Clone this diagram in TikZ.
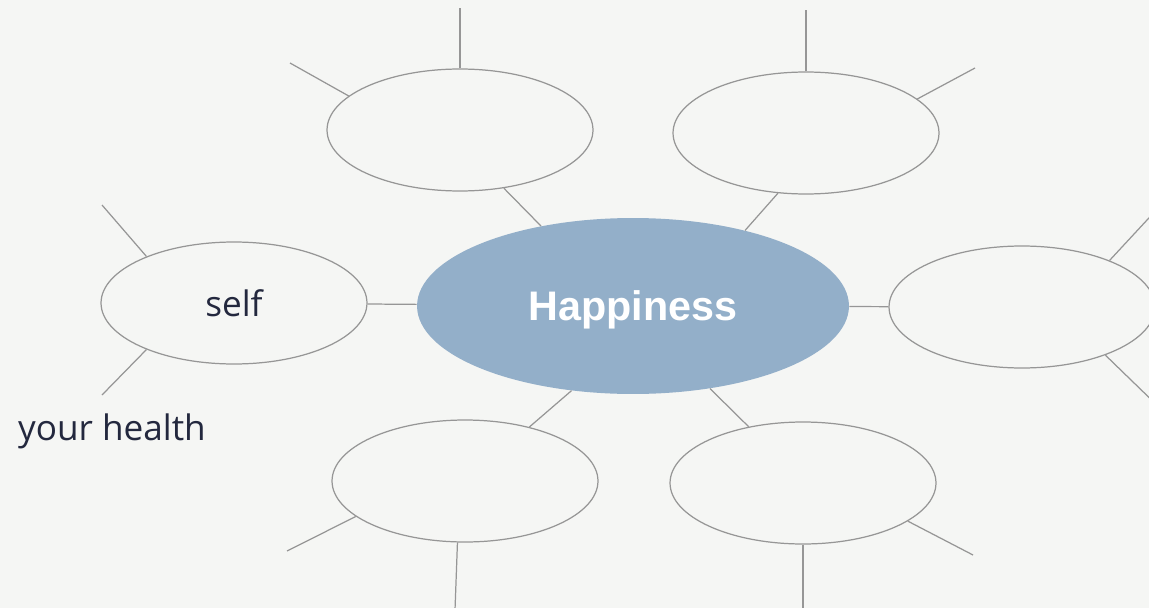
\documentclass[tikz,border=0pt]{standalone}
\usepackage{fontspec}
\setmainfont{Liberation Sans}
\newfontfamily\handfont{Open Sans}
\usetikzlibrary{shapes.geometric}
\definecolor{paper}{RGB}{245,246,244}
\definecolor{hubblue}{RGB}{147,175,201}
\definecolor{rulegray}{RGB}{150,150,150}
\definecolor{ink}{RGB}{35,40,62}

\begin{document}
\begin{tikzpicture}[x=0.02cm,y=-0.02cm]
  \tikzset{
    hub/.style={ellipse,fill=hubblue,inner sep=0pt,minimum width=8.64cm,
      minimum height=3.52cm,text=white,text depth=0pt,
      font=\fontsize{23.5}{26}\selectfont\bfseries},
    bubble/.style={ellipse,draw=rulegray,line width=0.7pt,inner sep=0pt,
      minimum width=5.32cm,minimum height=2.44cm},
    spoke/.style={draw=rulegray,line width=0.7pt},
    scrawl/.style={text=ink,font=\handfont\fontsize{20}{24}\selectfont}
  }
  \useasboundingbox (0,0) rectangle (1149,608);
  \fill[paper] (0,0) rectangle (1149,608);

  % centre and the six bubbles
  \node[hub] (happy) at (633,306) {Happiness};
  \node[bubble] (tl) at (460,130) {};
  \node[bubble] (tr) at (806,133) {};
  \node[bubble,scrawl] (self) at (234,303) {self};
  \node[bubble] (rt) at (1022,307) {};
  \node[bubble] (bl) at (465,481) {};
  \node[bubble] (br) at (803,483) {};
  \node[scrawl] (health) at (112,431) {your health};

  % free ends of the outer spokes
  \coordinate (tl-n) at (460,8);
  \coordinate (tl-w) at (290,63);
  \coordinate (tr-n) at (806,10);
  \coordinate (tr-e) at (975,68);
  \coordinate (self-nw) at (102,205);
  \coordinate (self-sw) at (102,395);
  \coordinate (rt-ne) at (1160,206);
  \coordinate (rt-se) at (1165,413);
  \coordinate (bl-w) at (287,551);
  \coordinate (bl-s) at (455,610);
  \coordinate (br-s) at (803,610);
  \coordinate (br-e) at (973,555);

  % links to the centre
  \draw[spoke] (tl.-53) -- (happy.139);
  \draw[spoke] (tr.-115) -- (happy.34);
  \draw[spoke] (self) -- (happy);
  \draw[spoke] (happy) -- (rt);
  \draw[spoke] (bl.40) -- (happy.-126);
  \draw[spoke] (br.134) -- (happy.-47);

  % outer spokes
  \draw[spoke] (tl.north) -- (tl-n);
  \draw[spoke] (tl.163) -- (tl-w);
  \draw[spoke] (tr.north) -- (tr-n);
  \draw[spoke] (tr.17) -- (tr-e);
  \draw[spoke] (self.152) -- (self-nw);
  \draw[spoke] (self.-152) -- (self-sw);
  \draw[spoke] (rt.28) -- (rt-ne);
  \draw[spoke] (rt.-30) -- (rt-se);
  \draw[spoke] (bl.-162) -- (bl-w);
  \draw[spoke] (bl.-97) -- (bl-s);
  \draw[spoke] (br.south) -- (br-s);
  \draw[spoke] (br.-20) -- (br-e);
\end{tikzpicture}
\end{document}
